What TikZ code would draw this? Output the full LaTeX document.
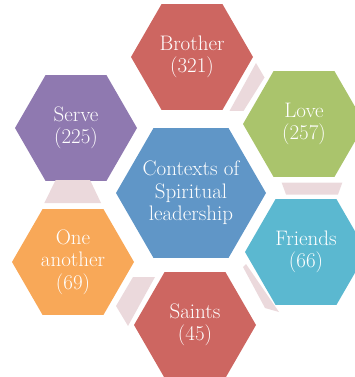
\documentclass[tikz,border=0pt]{standalone}
\usetikzlibrary{shapes.geometric}
\definecolor{hexred}{RGB}{205,102,97}
\definecolor{hexgreen}{RGB}{170,196,108}
\definecolor{hexcyan}{RGB}{91,184,208}
\definecolor{hexpurple}{RGB}{143,121,176}
\definecolor{hexorange}{RGB}{248,168,88}
\definecolor{hexblue}{RGB}{96,150,199}
\definecolor{barpink}{RGB}{235,217,220}
\begin{document}
\begin{tikzpicture}[x=1pt,y=1pt]
\tikzstyle{hex}=[regular polygon, regular polygon sides=6, inner sep=0pt, minimum size=122pt, text=white, align=center, font=\fontsize{21}{22.5}\selectfont]
\tikzstyle{hextext}=[inner sep=0pt, text=white, align=center, font=\fontsize{21}{22.5}\selectfont]
\tikzstyle{bar}=[fill=barpink]
\useasboundingbox (0,0) rectangle (355,-377);
\node[hex, fill=hexblue, minimum size=150pt] (core) at (191,-193) {};
\node[hextext] (coretext) at (core) {Contexts of\\Spiritual\\leadership};
\node[hex, fill=hexred] (brother) at (192,-57) {Brother\\(321)};
\node[hex, fill=hexgreen] (love) at (304,-124) {Love\\(257)};
\node[hex, fill=hexcyan] (friends) at (306,-252) {Friends\\(66)};
\node[hex, fill=hexred] (saints) at (195,-325) {Saints\\(45)};
\node[hex, fill=hexorange] (oneanother) at (73,-262) {One\\another\\(69)};
\node[hex, fill=hexpurple] (serve) at (76,-128) {Serve\\(225)};
\fill[bar] (256,-63) -- (264.5,-77.5) -- (243.5,-111) -- (229.5,-111) -- cycle;
\fill[bar] (281.7,-182.7) -- (342.3,-182.7) -- (338,-194.5) -- (286,-194.5) -- cycle;
\fill[bar] (243,-267) -- (246,-264) -- (279,-312) -- (265,-308) -- cycle;
\fill[bar] (133,-277) -- (155,-277) -- (128,-326) -- (116,-306) -- cycle;
\fill[bar] (55.7,-180) -- (90,-180) -- (101,-203) -- (44.3,-203) -- cycle;
\end{tikzpicture}
\end{document}
